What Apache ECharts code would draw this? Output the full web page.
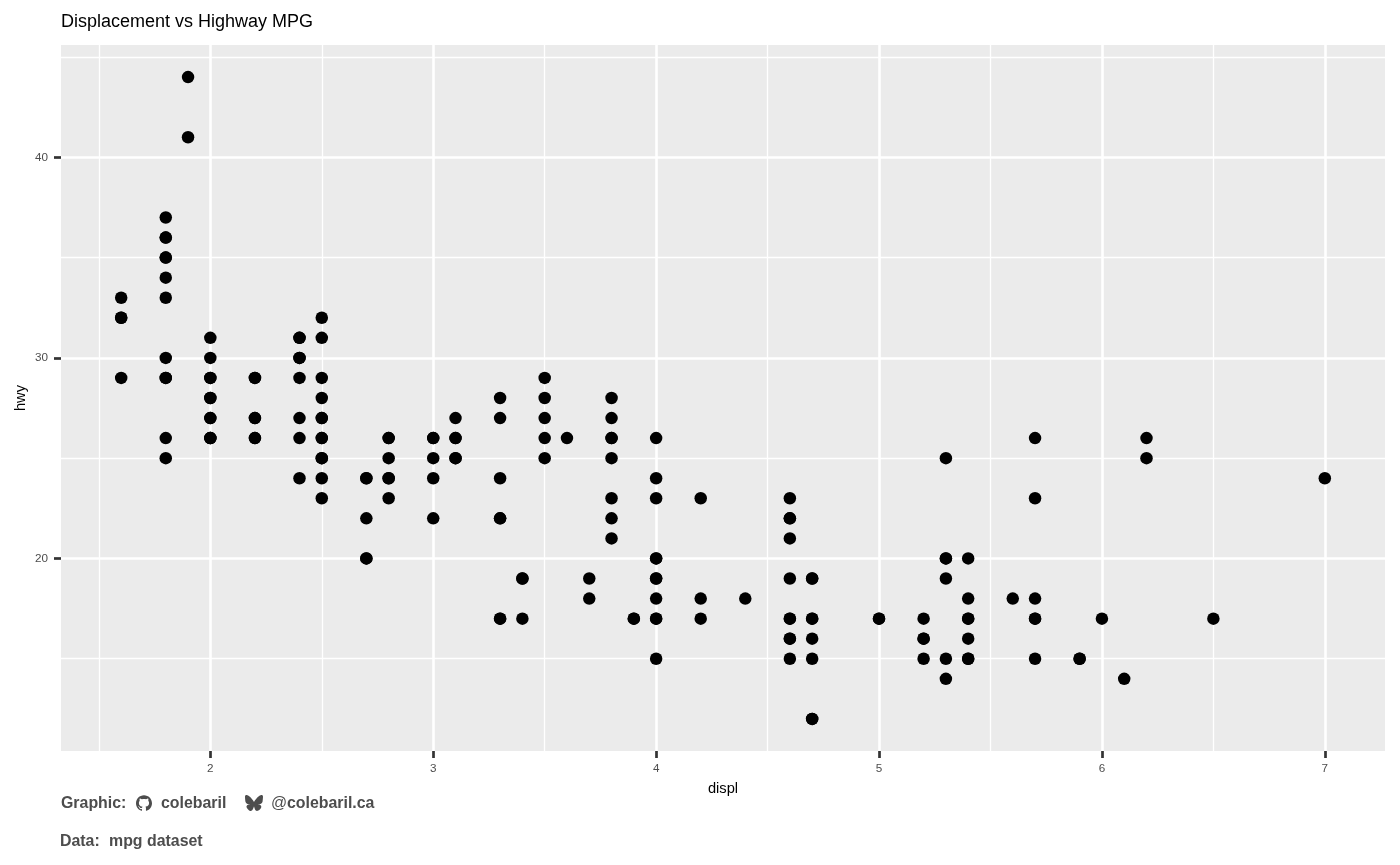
<!DOCTYPE html>
<html>
<head>
<meta charset="utf-8">
<title>Displacement vs Highway MPG</title>
<script src="https://cdn.jsdelivr.net/npm/echarts@6/dist/echarts.min.js"></script>
<style>
  html, body { margin: 0; padding: 0; background: #fff; }
  #main { width: 1400px; height: 865px; }
</style>
</head>
<body>
<div id="main"></div>
<script>
// values, points that look heavier are listed twice
var displ = [
  1.6, 1.6, 1.6, 1.6,
  1.8, 1.8, 1.8, 1.8, 1.8, 1.8, 1.8, 1.8, 1.8, 1.8, 1.8, 1.8,
  1.9, 1.9,
  2, 2, 2, 2, 2, 2, 2, 2, 2, 2, 2,
  2.2, 2.2, 2.2, 2.2, 2.2, 2.2,
  2.4, 2.4, 2.4, 2.4, 2.4, 2.4, 2.4, 2.4,
  2.5, 2.5, 2.5, 2.5, 2.5, 2.5, 2.5, 2.5, 2.5, 2.5, 2.5, 2.5,
  2.7, 2.7, 2.7, 2.7, 2.7,
  2.8, 2.8, 2.8, 2.8, 2.8, 2.8,
  3, 3, 3, 3, 3,
  3.1, 3.1, 3.1, 3.1, 3.1,
  3.3, 3.3, 3.3, 3.3, 3.3, 3.3, 3.3,
  3.4, 3.4, 3.4,
  3.5, 3.5, 3.5, 3.5, 3.5,
  3.6,
  3.7, 3.7,
  3.8, 3.8, 3.8, 3.8, 3.8, 3.8, 3.8, 3.8,
  3.9, 3.9,
  4, 4, 4, 4, 4, 4, 4, 4, 4, 4, 4,
  4.2, 4.2, 4.2,
  4.4,
  4.6, 4.6, 4.6, 4.6, 4.6, 4.6, 4.6, 4.6, 4.6, 4.6,
  4.7, 4.7, 4.7, 4.7, 4.7, 4.7, 4.7, 4.7,
  5, 5,
  5.2, 5.2, 5.2, 5.2,
  5.3, 5.3, 5.3, 5.3, 5.3, 5.3,
  5.4, 5.4, 5.4, 5.4, 5.4, 5.4, 5.4,
  5.6,
  5.7, 5.7, 5.7, 5.7, 5.7, 5.7,
  5.9, 5.9,
  6,
  6.1,
  6.2, 6.2,
  6.5,
  7
];
var hwy = [
  33, 32, 32, 29,
  37, 36, 36, 35, 35, 34, 33, 30, 29, 29, 26, 25,
  44, 41,
  31, 30, 29, 29, 28, 28, 27, 27, 26, 26, 26,
  29, 29, 27, 27, 26, 26,
  31, 31, 30, 30, 29, 27, 26, 24,
  32, 31, 29, 28, 27, 27, 26, 26, 25, 25, 24, 23,
  24, 24, 22, 20, 20,
  26, 26, 25, 24, 24, 23,
  26, 26, 25, 24, 22,
  27, 26, 26, 25, 25,
  28, 27, 24, 22, 22, 17, 17,
  19, 19, 17,
  29, 28, 27, 26, 25,
  26,
  19, 18,
  28, 27, 26, 26, 25, 23, 22, 21,
  17, 17,
  26, 24, 23, 20, 20, 19, 19, 18, 17, 17, 15,
  23, 18, 17,
  18,
  23, 22, 22, 21, 19, 17, 17, 16, 16, 15,
  19, 19, 17, 17, 16, 15, 12, 12,
  17, 17,
  17, 16, 16, 15,
  25, 20, 20, 19, 15, 14,
  20, 18, 17, 17, 16, 15, 15,
  18,
  26, 23, 18, 17, 17, 15,
  15, 15,
  17,
  14,
  26, 25,
  17,
  24
];

var xMajor = [2, 3, 4, 5, 6, 7];
var xMinor = [1.5, 2.5, 3.5, 4.5, 5.5, 6.5];
var yMajor = [20, 30, 40];
var yMinor = [15, 25, 35, 45];
var xRange = [1.33, 7.27];
var yRange = [10.4, 45.6];

var FONT = '"Liberation Sans", Arial, sans-serif';
var GITHUB_PATH = 'M12 .297c-6.63 0-12 5.373-12 12 0 5.303 3.438 9.8 8.205 11.385.6.113.82-.258.82-.577 0-.285-.01-1.04-.015-2.04-3.338.724-4.042-1.61-4.042-1.61C4.422 18.07 3.633 17.7 3.633 17.7c-1.087-.744.084-.729.084-.729 1.205.084 1.838 1.236 1.838 1.236 1.07 1.835 2.809 1.305 3.495.998.108-.776.417-1.305.76-1.605-2.665-.3-5.466-1.332-5.466-5.93 0-1.31.465-2.38 1.235-3.22-.135-.303-.54-1.523.105-3.176 0 0 1.005-.322 3.3 1.23.96-.267 1.98-.399 3-.405 1.02.006 2.04.138 3 .405 2.28-1.552 3.285-1.23 3.285-1.23.645 1.653.24 2.873.12 3.176.765.84 1.23 1.91 1.23 3.22 0 4.61-2.805 5.625-5.475 5.92.42.36.81 1.096.81 2.22 0 1.606-.015 2.896-.03 3.286 0 .315.21.69.825.57C20.565 22.092 24 17.592 24 12.297c0-6.627-5.373-12-12-12';
var BLUESKY_PATH = 'M12 10.8c-1.087-2.114-4.046-6.053-6.798-7.995C2.566.944 1.561 1.266.902 1.565.139 1.908 0 3.08 0 3.768c0 .69.378 5.65.624 6.479.815 2.736 3.713 3.66 6.383 3.364.136-.02.275-.039.415-.056-.138.022-.276.04-.415.056-3.912.58-7.387 2.005-2.83 7.078 5.013 5.19 6.87-1.113 7.823-4.308.953 3.195 2.05 9.271 7.733 4.308 4.267-4.308 1.172-6.498-2.74-7.078a8.741 8.741 0 0 1-.415-.056c.14.017.279.036.415.056 2.67.297 5.568-.628 6.383-3.364.246-.828.624-5.79.624-6.48 0-.688-.139-1.86-.902-2.203-.659-.299-1.664-.621-4.3 1.24C16.046 4.748 13.087 8.687 12 10.8Z';

function footText(x, y, text, weight) {
  return {
    type: 'text', x: x, y: y, silent: true,
    style: { text: text, fill: '#4d4d4d', font: (weight || 'bold') + ' 15.9px ' + FONT }
  };
}

var points = displ.map(function (d, i) { return [d, hwy[i]]; });

// the second pair of axes only carries the thin minor grid lines
function gridAxis(range, ticks, lineWidth, position) {
  return {
    type: 'value', min: range[0], max: range[1], position: position,
    axisLine: { show: false },
    axisTick: { show: false, customValues: ticks },
    axisLabel: { show: false, customValues: ticks },
    splitLine: { show: true, lineStyle: { color: '#ffffff', width: lineWidth } }
  };
}

var xMain = gridAxis(xRange, xMajor, 2.6, 'bottom');
xMain.name = 'displ';
xMain.nameLocation = 'middle';
xMain.nameGap = 30;
xMain.nameTextStyle = { color: '#000', fontSize: 14.67, fontFamily: FONT };
xMain.axisTick = { show: true, length: 7, customValues: xMajor, lineStyle: { color: '#333333', width: 2.7 } };
xMain.axisLabel = { show: true, margin: 12, customValues: xMajor, color: '#4d4d4d', fontSize: 11.7, fontFamily: FONT };

var yMain = gridAxis(yRange, yMajor, 2.6, 'left');
yMain.name = 'hwy';
yMain.nameLocation = 'middle';
yMain.nameRotate = 90;
yMain.nameGap = 33;
yMain.nameMoveOverlap = false;
yMain.nameTextStyle = { color: '#000', fontSize: 14.67, fontFamily: FONT };
yMain.axisTick = { show: true, length: 7, customValues: yMajor, lineStyle: { color: '#333333', width: 2.7 } };
yMain.axisLabel = { show: true, margin: 13, customValues: yMajor, color: '#4d4d4d', fontSize: 11.7, fontFamily: FONT };

var option = {
  animation: false,
  backgroundColor: '#ffffff',
  title: {
    text: 'Displacement vs Highway MPG', left: 56, top: 8,
    textStyle: { color: '#000', fontSize: 18, fontWeight: 'normal', fontFamily: FONT }
  },
  grid: { left: 61, top: 45, width: 1324, height: 706, outerBoundsMode: 'none', show: true, backgroundColor: '#ebebeb', borderWidth: 0 },
  xAxis: [gridAxis(xRange, xMinor, 1.3, 'top'), xMain],
  yAxis: [gridAxis(yRange, yMinor, 1.3, 'right'), yMain],
  series: [{
    type: 'scatter', xAxisIndex: 0, yAxisIndex: 0,
    data: points, symbolSize: 12.5, itemStyle: { color: '#000', opacity: 1 }
  }, {
    // footer icons, the graphic component has no path element
    type: 'custom', coordinateSystem: 'none', silent: true, data: [0],
    renderItem: function () {
      return {
        type: 'group',
        children: [
          { type: 'path', shape: { pathData: GITHUB_PATH, layout: 'center', x: 136, y: 795, width: 16, height: 16 }, style: { fill: '#4d4d4d' } },
          { type: 'path', shape: { pathData: BLUESKY_PATH, layout: 'center', x: 245, y: 795, width: 18, height: 16 }, style: { fill: '#4d4d4d' } }
        ]
      };
    }
  }],
  graphic: [
    footText(61, 796, 'Graphic:'),
    footText(161, 796, 'colebaril'),
    footText(271, 796, '@', 'normal'),
    footText(287, 796, 'colebaril.ca'),
    footText(60, 834, 'Data:'),
    footText(109, 834, 'mpg dataset')
  ]
};

var chart = echarts.init(document.getElementById('main'));
chart.setOption(option);
</script>
</body>
</html>
